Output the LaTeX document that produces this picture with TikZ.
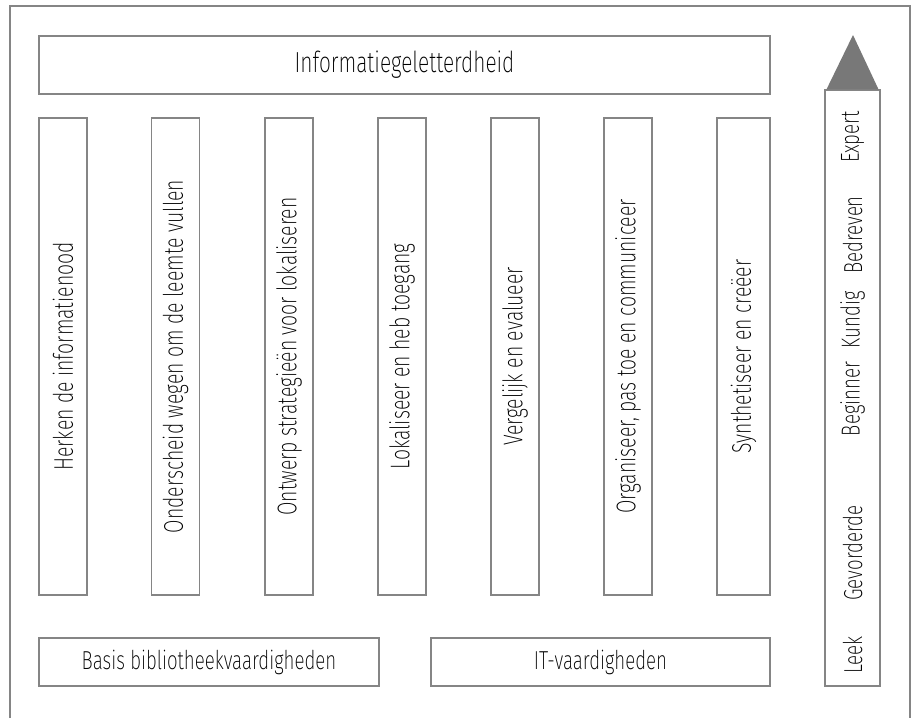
\documentclass[tikz,border=0pt]{standalone}
\usepackage{fontspec}
\setmainfont{Fira Sans}[UprightFont=* ExtraLight, FakeStretch=0.72]
\usetikzlibrary{positioning}
\definecolor{linegray}{gray}{0.52}
\definecolor{tipgray}{gray}{0.47}

\begin{document}
\begin{tikzpicture}[
  x=1pt,y=-1pt,
  box/.style={draw=linegray,line width=1.1pt,inner sep=0pt,align=center},
  skill/.style={box,rotate=90,minimum width=477pt,minimum height=48pt,font=\fontsize{27}{30}\selectfont},
  base/.style={box,minimum width=340pt,minimum height=48pt,font=\fontsize{26}{30}\selectfont},
  level/.style={rotate=90,inner sep=0pt,font=\fontsize{26}{30}\selectfont}
]
\useasboundingbox (0,0) rectangle (915,718);
% open frame round the whole figure
\draw[linegray,line width=1.1pt] (10,718) -- (10,6) -- (910,6) -- (910,718);

\node[box,minimum width=731pt,minimum height=58pt,font=\fontsize{29}{34}\selectfont] (top) at (404.5,65) {Informatiegeletterdheid};

\node[skill] (s1) at (63,356.5) {Herken de informatienood};
\node[skill] (s2) at (175.5,356.5) {Onderscheid wegen om de leemte vullen};
\node[skill] (s3) at (289,356.5) {Ontwerp strategieën voor lokaliseren};
\node[skill] (s4) at (402,356.5) {Lokaliseer en heb toegang};
\node[skill] (s5) at (515,356.5) {Vergelijk en evalueer};
\node[skill] (s6) at (628,356.5) {Organiseer, pas toe en communiceer};
\node[skill,minimum height=53pt] (s7) at (743.5,356.5) {Synthetiseer en creëer};

\node[base] (lib) at (209,662) {Basis bibliotheekvaardigheden};
\node[base,minimum width=339pt] (it) at (600.5,662) {IT-vaardigheden};

% level bar with arrow head
\node[box,minimum width=55pt,minimum height=596pt] (bar) at (852.5,388) {};
\coordinate (tip) at (853,35);
\fill[tipgray] ([xshift=2pt]bar.north west) -- (tip) -- ([xshift=-2pt]bar.north east) -- cycle;
\node[level] (l1) at (852.5,655) {Leek};
\node[level] (l2) at (852.5,553) {Gevorderde};
\node[level] (l3) at (852.5,399) {Beginner};
\node[level] (l4) at (852.5,320) {Kundig};
\node[level] (l5) at (852.5,235) {Bedreven};
\node[level] (l6) at (852.5,137) {Expert};
\end{tikzpicture}
\end{document}
